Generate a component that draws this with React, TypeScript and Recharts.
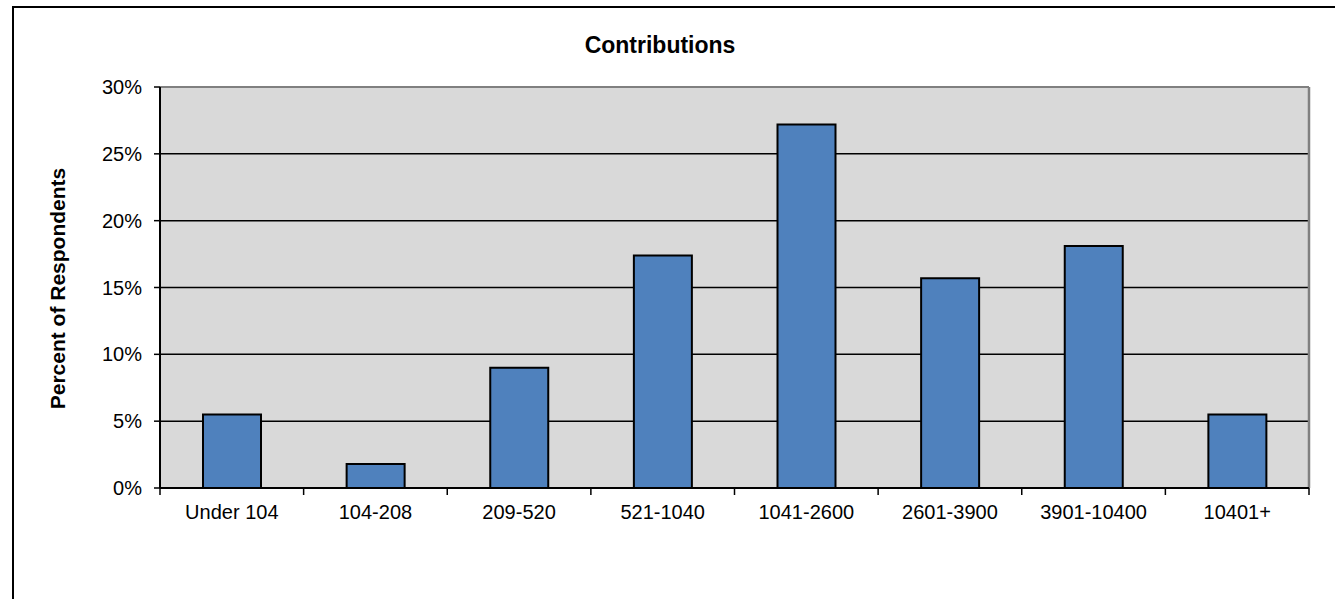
import { BarChart, Bar, XAxis, YAxis, CartesianGrid, ReferenceLine, Label } from 'recharts'

const categories = ['Under 104', '104-208', '209-520', '521-1040', '1041-2600', '2601-3900', '3901-10400', '10401+']
const percents = [5.5, 1.8, 9.0, 17.4, 27.2, 15.7, 18.1, 5.5]
const yTicks = [0, 5, 10, 15, 20, 25, 30]

const data = categories.map((name, i) => ({ name, value: percents[i] }))

const font = '"Liberation Sans", Arial, sans-serif'
const TICK_SIZE = 6
const TICK_MARGIN = 11

// category label plus tick marks on the boundaries between categories
function CategoryTick(props: any) {
  const { x, y, payload, index, visibleTicksCount } = props
  const half = payload.offset || 0
  const axisY = y - TICK_SIZE - TICK_MARGIN
  return (
    <g>
      <line x1={x - half} x2={x - half} y1={axisY} y2={axisY + 7} stroke="#000" strokeWidth={1.5} />
      {index === visibleTicksCount - 1 && (
        <line x1={x + half} x2={x + half} y1={axisY} y2={axisY + 7} stroke="#000" strokeWidth={1.5} />
      )}
      <text x={x} y={y} dy="0.71em" textAnchor="middle" fill="#000" fontSize={20} fontFamily={font}>
        {payload.value}
      </text>
    </g>
  )
}

export default function App() {
  return (
    <div style={{ position: 'absolute', left: 0, top: 0, width: 1335, height: 599, overflow: 'hidden', background: '#fff' }}>
      <div
        style={{
          position: 'absolute',
          left: 12,
          top: 6,
          width: 1340,
          height: 700,
          border: '2px solid #000',
        }}
      />
      <BarChart
        width={1335}
        height={599}
        data={data}
        margin={{ top: 87, right: 26, bottom: 81, left: 100 }}
        style={{ position: 'absolute', left: 0, top: 0, fontFamily: font }}
      >
        <text x={660} y={53} textAnchor="middle" fontFamily={font} fontWeight="bold" fontSize={23} fill="#000">
          Contributions
        </text>
        <CartesianGrid fill="#d9d9d9" stroke="#000" strokeWidth={1.5} vertical={false} />
        <XAxis
          dataKey="name"
          tickLine={false}
          tickSize={TICK_SIZE}
          tickMargin={TICK_MARGIN}
          height={30}
          interval={0}
          axisLine={{ stroke: '#000', strokeWidth: 2 }}
          tick={<CategoryTick />}
        />
        <YAxis
          width={60}
          domain={[0, 30]}
          ticks={yTicks}
          tickFormatter={v => `${v}%`}
          tickSize={6}
          tickMargin={12}
          axisLine={{ stroke: '#000', strokeWidth: 2 }}
          tickLine={{ stroke: '#000', strokeWidth: 1.5 }}
          tick={{ fill: '#000', fontSize: 20, fontFamily: font }}
        >
          <Label
            content={({ viewBox }: any) => {
              const cy = viewBox.y + viewBox.height / 2 + 1
              return (
                <text
                  x={57}
                  y={cy}
                  transform={`rotate(-90 57 ${cy})`}
                  textAnchor="middle"
                  dominantBaseline="central"
                  fontFamily={font}
                  fontWeight="bold"
                  fontSize={21}
                  fill="#000"
                >
                  Percent of Respondents
                </text>
              )
            }}
          />
        </YAxis>
        <Bar dataKey="value" fill="#4f81bd" stroke="#000" strokeWidth={2} barSize={58} isAnimationActive={false} />
        <ReferenceLine y={yTicks[yTicks.length - 1]} stroke="#808080" strokeWidth={2} />
        <ReferenceLine
          x={categories[categories.length - 1]}
          position="end"
          stroke="#808080"
          strokeWidth={2.5}
          ifOverflow="visible"
        />
      </BarChart>
    </div>
  )
}
